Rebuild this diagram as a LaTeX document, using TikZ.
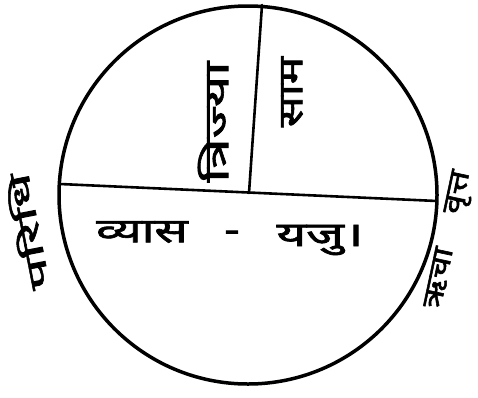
\documentclass[tikz,border=0pt]{standalone}
\usepackage{fontspec}
\newfontfamily\deva[Script=Devanagari,FakeBold=1.8]{Noto Sans}
\begin{document}
\begin{tikzpicture}[x=1pt,y=-1pt,line cap=round]
\tikzset{label text/.style={font=\deva\fontsize{34}{36}\selectfont,inner sep=0pt},
  side text/.style={font=\deva\fontsize{28}{30}\selectfont,inner sep=0pt}}
\newcommand\wide[2]{\scalebox{#1}[1]{#2}}
\useasboundingbox (0,0) rectangle (478,397);
% 圆：中心与直径、半径端点
\coordinate (o) at (249,193);
\coordinate (west) at (60,184);
\coordinate (east) at (437,201);
\coordinate (top) at (262,5);
\draw[line width=3.5pt] (248,195) circle (189);
\draw[line width=2.6pt] (west) -- (east);
\draw[line width=2.6pt] (top) -- (o);
% 直径下的文字
\node[label text] (vyas) at (142,232) {\wide{1.45}{व्यास}};
\node[label text] (dash) at (232,236) {\wide{1.4}{-}};
\node[label text] (yaju) at (320,240) {\wide{1.5}{यजु।}};
% 半径两侧
\node[label text,rotate=90] (trijya) at (213,122) {\wide{1.6}{त्रिज्या}};
\node[label text,rotate=90] (sam) at (292,92) {\wide{1.35}{साम}};
% 圆周两侧
\node[side text,rotate=101] (paridhi) at (27,232) {\wide{2}{परिधि}};
\node[side text,rotate=78] (vritta) at (450,240) {\wide{1.25}{ऋचा\quad वृत्त}};
\end{tikzpicture}
\end{document}
